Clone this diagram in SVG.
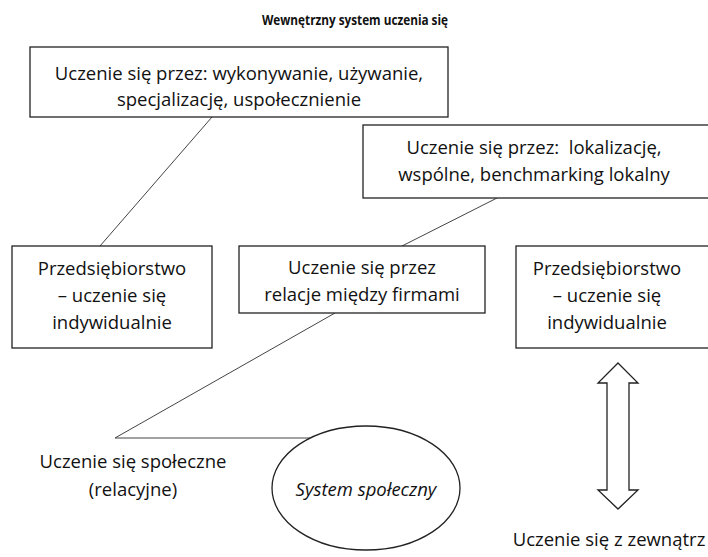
<svg xmlns="http://www.w3.org/2000/svg" width="708" height="557" viewBox="0 0 708 557">
<style>
text{font-family:"Open Sans","Noto Sans","Liberation Sans",sans-serif;font-size:18.5px;fill:#111;text-anchor:middle}
.title{font-weight:bold;font-size:14px}
.it{font-style:italic}
.box{fill:#fff;stroke:#222;stroke-width:1.3}
.conn{fill:none;stroke:#444;stroke-width:1}
</style>
<rect width="708" height="557" fill="#fff"/>
<text class="title" x="355" y="25" textLength="186" lengthAdjust="spacingAndGlyphs">Wewnętrzny system uczenia się</text>
<g id="connectors">
<line class="conn" x1="212" y1="117" x2="100" y2="246"/>
<line class="conn" x1="497" y1="198" x2="402" y2="246"/>
<polyline class="conn" points="335,313 115,438 310,438"/>
</g>
<g id="box-uczenie-wewn">
<rect class="box" x="30" y="47" width="418" height="70"/>
<text x="239" y="80">Uczenie się przez: wykonywanie, używanie,</text>
<text x="239" y="106">specjalizację, uspołecznienie</text>
</g>
<g id="box-lokalizacja">
<rect class="box" x="363" y="125" width="350" height="73"/>
<text x="534" y="154">Uczenie się przez:&#160; lokalizację,</text>
<text x="534" y="181">wspólne, benchmarking lokalny</text>
</g>
<g id="box-przeds-1">
<rect class="box" x="12" y="246" width="200" height="102"/>
<text x="112" y="275">Przedsiębiorstwo</text>
<text x="112" y="302">– uczenie się</text>
<text x="112" y="329">indywidualnie</text>
</g>
<g id="box-relacje">
<rect class="box" x="239" y="246" width="246" height="67"/>
<text x="362" y="274">Uczenie się przez</text>
<text x="362" y="301">relacje między firmami</text>
</g>
<g id="box-przeds-2">
<rect class="box" x="516" y="246" width="200" height="102"/>
<text x="607" y="275">Przedsiębiorstwo</text>
<text x="607" y="302">– uczenie się</text>
<text x="607" y="329">indywidualnie</text>
</g>
<g id="label-spoleczne">
<text x="133" y="468">Uczenie się społeczne</text>
<text x="133" y="496">(relacyjne)</text>
</g>
<g id="system-spoleczny">
<ellipse class="box" cx="366" cy="488" rx="94" ry="62"/>
<text class="it" x="366" y="496">System społeczny</text>
</g>
<g id="arrow-zewnatrz">
<polygon class="box" points="618,363 638,383 629,383 629,490 638,490 618,509 598,490 607,490 607,383 598,383"/>
</g>
<g id="label-zewnatrz">
<text x="609" y="546">Uczenie się z zewnątrz</text>
</g>
</svg>
